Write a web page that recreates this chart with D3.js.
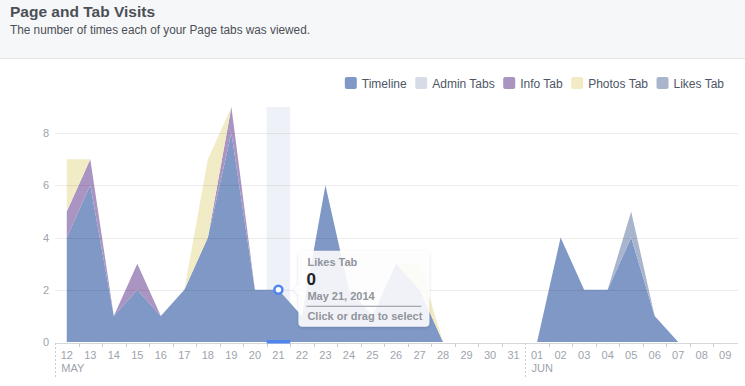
<!DOCTYPE html>
<html>
<head>
<meta charset="utf-8">
<script src="https://cdn.jsdelivr.net/npm/d3@7"></script>
<style>
  body { margin: 0; background: #fff; font-family: "Liberation Sans", Arial, Helvetica, sans-serif; }
</style>
</head>
<body>
<script>
// day labels, May 12 -> Jun 09
var dayLabels = ["12","13","14","15","16","17","18","19","20","21","22","23","24","25","26","27","28","29","30","31",
                 "01","02","03","04","05","06","07","08","09"];
var monthNames = ["MAY", "JUN"];
var monthStarts = [0, 20];

var seriesNames = ["Timeline", "Admin Tabs", "Info Tab", "Photos Tab", "Likes Tab"];
var seriesColors = ["#7f98c5", "#d6dbe6", "#a994c2", "#f1ebc6", "#a9b5cd"];

var timeline   = [4,6,1,2,1,2,4,8,2,2,1,6,2,1,3,2,0,0,0,0,0,4,2,2,4,1,0,0,0];
var adminTabs  = [0,0,0,0,0,0,0,0,0,0,0,0,0,0,0,0,0,0,0,0,0,0,0,0,0,0,0,0,0];
var infoTab    = [1,1,0,1,0,0,0,1,0,0,0,0,0,0,0,0,0,0,0,0,0,0,0,0,0,0,0,0,0];
var photosTab  = [2,0,0,0,0,0,3,0,0,0,0,0,0,0,0,1,0,0,0,0,0,0,0,0,0,0,0,0,0];
var likesTab   = [0,0,0,0,0,0,0,0,0,0,0,0,0,0,0,0,0,0,0,0,0,0,0,0,1,0,0,0,0];

var yTicks = [0, 2, 4, 6, 8];

// hovered point shown in tooltip
var hoverIndex = 9;
var hoverSeries = "Likes Tab";
var hoverDate = "May 21, 2014";

let w = 745;
let h = 386;

let svg = d3.select("body")
            .append("svg")
            .attr("width", w)
            .attr("height", h);

//==== header ====//
svg.append("rect").attr("width", w).attr("height", 58).attr("fill", "#f6f7f9");
svg.append("line")
   .attr("x1", 0).attr("x2", w).attr("y1", 58.5).attr("y2", 58.5)
   .attr("stroke", "#e2e4e8");
svg.append("text")
   .attr("x", 10).attr("y", 16.5)
   .attr("font-size", "15px").attr("font-weight", "bold")
   .attr("fill", "#4b4f56")
   .attr("textLength", 145).attr("lengthAdjust", "spacingAndGlyphs")
   .text("Page and Tab Visits");
svg.append("text")
   .attr("x", 10).attr("y", 34)
   .attr("font-size", "12px")
   .attr("fill", "#4b4f56")
   .attr("textLength", 300).attr("lengthAdjust", "spacingAndGlyphs")
   .text("The number of times each of your Page tabs was viewed.");

//==== legend, right aligned ====//
let legend = svg.append("g");
let items = legend.selectAll("g")
   .data(seriesNames)
   .enter()
   .append("g");
items.append("rect")
   .attr("width", 12).attr("height", 12).attr("rx", 2)
   .attr("y", 77)
   .attr("fill", function(d, i){ return seriesColors[i]; });
items.append("text")
   .attr("x", 17).attr("y", 87.5)
   .attr("font-size", "12px")
   .attr("fill", "#4e5665")
   .text(function(d){ return d; });
let widths = [];
items.each(function(){
  widths.push(17 + d3.select(this).select("text").node().getComputedTextLength());
});
let legendRight = 724;
let total = d3.sum(widths) + 8.5 * (widths.length - 1);
let pos = legendRight - total;
items.attr("transform", function(d, i){
  let p = pos;
  pos += widths[i] + 8.5;
  return "translate(" + p + ",0)";
});

//==== scales ====//
let x = d3.scaleBand().domain(d3.range(dayLabels.length)).range([55, 737]);
let cx = function(i){ return x(i) + x.bandwidth() / 2; };
let y = d3.scaleLinear().domain([0, 9]).range([342, 107]);

//==== stacked data ====//
let rows = dayLabels.map(function(d, i){
  return {
    "Timeline": timeline[i],
    "Admin Tabs": adminTabs[i],
    "Info Tab": infoTab[i],
    "Photos Tab": photosTab[i],
    "Likes Tab": likesTab[i]
  };
});
let stacked = d3.stack().keys(seriesNames)(rows);

// highlight column behind the areas
svg.append("rect")
   .attr("x", x(hoverIndex))
   .attr("y", y(9))
   .attr("width", x.bandwidth())
   .attr("height", y(0) - y(9))
   .attr("fill", "#eef1f7");

// y labels
let yAxis = d3.axisLeft(y).tickValues(yTicks).tickSize(0).tickPadding(6);
let yg = svg.append("g").attr("transform", "translate(55,0)").call(yAxis);
yg.select(".domain").remove();
yg.selectAll("text")
  .attr("font-family", "Liberation Sans, Arial, sans-serif")
  .attr("font-size", "11px")
  .attr("fill", "#9ea3ad");

let area = d3.area()
  .x(function(d, i){ return cx(i); })
  .y0(function(d){ return y(d[0]); })
  .y1(function(d){ return y(d[1]); });

svg.selectAll("path.layer")
   .data(stacked)
   .enter()
   .append("path")
   .attr("class", "layer")
   .attr("d", area)
   .attr("fill", function(d, i){ return seriesColors[i]; });

// gridlines drawn over the areas, very faint
svg.selectAll("line.grid")
   .data(yTicks.slice(1))
   .enter()
   .append("line")
   .attr("class", "grid")
   .attr("x1", 55).attr("x2", 738)
   .attr("y1", function(d){ return Math.round(y(d)) + 0.5; })
   .attr("y2", function(d){ return Math.round(y(d)) + 0.5; })
   .attr("stroke", "#000")
   .attr("stroke-opacity", 0.07);

//==== x axis ====//
svg.append("line")
   .attr("x1", 55).attr("x2", 738).attr("y1", 343.5).attr("y2", 343.5)
   .attr("stroke", "#d5d8dd");

let xAxis = d3.axisBottom(x)
  .tickFormat(function(i){ return dayLabels[i]; })
  .tickSize(0)
  .tickPadding(8);
let xg = svg.append("g").attr("transform", "translate(0,343)").call(xAxis);
xg.select(".domain").remove();
xg.selectAll("text")
  .attr("font-family", "Liberation Sans, Arial, sans-serif")
  .attr("font-size", "11px")
  .attr("fill", "#9ea3ad");

// small ticks between days, dashed line at month starts
svg.selectAll("line.xtick")
   .data(d3.range(dayLabels.length))
   .enter()
   .append("line")
   .attr("class", "xtick")
   .attr("x1", function(i){ return Math.round(x(i)) + 0.5; })
   .attr("x2", function(i){ return Math.round(x(i)) + 0.5; })
   .attr("y1", 343)
   .attr("y2", function(i){ return monthStarts.indexOf(i) >= 0 ? 378 : 347; })
   .attr("stroke", "#c9ccd2")
   .attr("stroke-dasharray", function(i){ return monthStarts.indexOf(i) >= 0 ? "2,2" : null; });

svg.selectAll("text.month")
   .data(monthNames)
   .enter()
   .append("text")
   .attr("class", "month")
   .attr("x", function(d, i){ return cx(monthStarts[i]) - 5.5; })
   .attr("y", 371.5)
   .attr("font-size", "11px")
   .attr("fill", "#9ea3ad")
   .text(function(d){ return d; });

//==== hover state ====//
let sIdx = seriesNames.indexOf(hoverSeries);
let hoverTop = stacked[sIdx][hoverIndex][1];
let hoverVal = stacked[sIdx][hoverIndex][1] - stacked[sIdx][hoverIndex][0];
let mx = cx(hoverIndex), my = y(hoverTop);

svg.append("rect")
   .attr("x", x(hoverIndex))
   .attr("y", 340)
   .attr("width", x.bandwidth())
   .attr("height", 3.5)
   .attr("fill", "#4f86ec");

svg.append("circle")
   .attr("cx", mx).attr("cy", my).attr("r", 4)
   .attr("fill", "#fff")
   .attr("stroke", "#4f86ec")
   .attr("stroke-width", 2.5);

let defs = svg.append("defs");
let filt = defs.append("filter").attr("id", "shadow")
   .attr("x", "-20%").attr("y", "-20%").attr("width", "140%").attr("height", "150%");
filt.append("feDropShadow")
   .attr("dx", 0).attr("dy", 1).attr("stdDeviation", 1.5)
   .attr("flood-color", "#000").attr("flood-opacity", 0.18);

let tw = 131, th = 76;
let tip = svg.append("g")
   .attr("transform", "translate(" + (mx + 20) + "," + (my - 39) + ")");
tip.append("path")
   .attr("d", "M4,0 H" + (tw - 4) + " Q" + tw + ",0 " + tw + ",4 V" + (th - 4) +
              " Q" + tw + "," + th + " " + (tw - 4) + "," + th + " H4 Q0," + th + " 0," + (th - 4) +
              " V44 L-5,39 L0,34 V4 Q0,0 4,0 Z")
   .attr("fill", "#fff")
   .attr("fill-opacity", 0.88)
   .attr("filter", "url(#shadow)");
tip.append("text")
   .attr("x", 9).attr("y", 15)
   .attr("font-size", "11px").attr("font-weight", "bold")
   .attr("fill", "#90949c")
   .text(hoverSeries);
tip.append("text")
   .attr("x", 8).attr("y", 34)
   .attr("font-size", "17px").attr("font-weight", "bold")
   .attr("fill", "#1d2129")
   .text(hoverVal);
tip.append("text")
   .attr("x", 9).attr("y", 49)
   .attr("font-size", "11px").attr("font-weight", "bold")
   .attr("fill", "#90949c")
   .text(hoverDate);
tip.append("line")
   .attr("x1", 8).attr("x2", 123).attr("y1", 55.5).attr("y2", 55.5)
   .attr("stroke", "#90949c");
tip.append("text")
   .attr("x", 9).attr("y", 69.5)
   .attr("font-size", "11px").attr("font-weight", "bold")
   .attr("fill", "#90949c")
   .text("Click or drag to select");
</script>
</body>
</html>
